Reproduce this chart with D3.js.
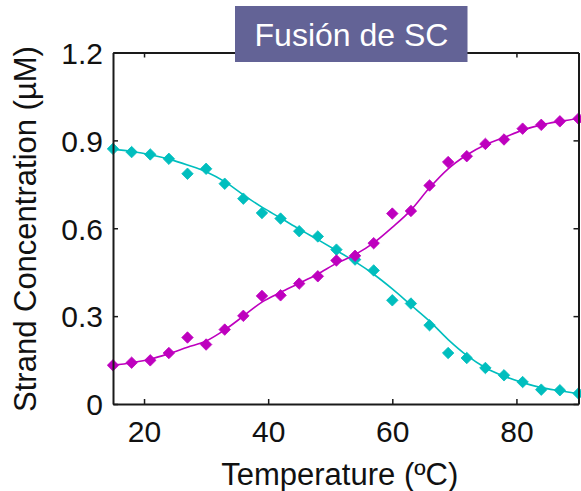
<!DOCTYPE html>
<html>
<head>
<meta charset="utf-8">
<script src="https://cdn.jsdelivr.net/npm/d3@7"></script>
<style>
  html, body { margin: 0; padding: 0; background: #fff; }
  svg { display: block; }
  text { font-family: "Liberation Sans", Arial, Helvetica, sans-serif; }
</style>
</head>
<body>
<svg id="chart" width="581" height="491"></svg>
<script>
// Temperature steps (ºC)
const temperature = [15, 18, 21, 24, 27, 30, 33, 36, 39, 42, 45, 48, 51, 54, 57, 60, 63, 66, 69, 72, 75, 78, 81, 84, 87, 90];

// Measured strand concentrations (µM)
const duplexMeasured = [0.871, 0.860, 0.852, 0.837, 0.786, 0.803, 0.752, 0.701, 0.652, 0.633, 0.590, 0.572, 0.527, 0.493, 0.456, 0.354, 0.343, 0.269, 0.174, 0.157, 0.123, 0.098, 0.075, 0.049, 0.047, 0.036];
const singleMeasured = [0.132, 0.141, 0.149, 0.174, 0.227, 0.203, 0.254, 0.301, 0.369, 0.371, 0.411, 0.436, 0.490, 0.506, 0.549, 0.650, 0.659, 0.746, 0.826, 0.846, 0.888, 0.903, 0.940, 0.953, 0.965, 0.974];

// Fitted melting curves at the same temperatures (µM)
const duplexFit = [0.870, 0.862, 0.851, 0.836, 0.816, 0.793, 0.759, 0.714, 0.672, 0.635, 0.597, 0.561, 0.524, 0.486, 0.443, 0.393, 0.338, 0.283, 0.220, 0.166, 0.124, 0.095, 0.073, 0.056, 0.045, 0.035];
const singleFit = [0.132, 0.141, 0.153, 0.172, 0.194, 0.215, 0.253, 0.300, 0.348, 0.381, 0.412, 0.444, 0.480, 0.510, 0.550, 0.603, 0.662, 0.738, 0.803, 0.850, 0.885, 0.910, 0.935, 0.953, 0.965, 0.975];

// Axis ticks
const xTicks = [20, 40, 60, 80];
const yTicks = [0, 0.3, 0.6, 0.9, 1.2];
const yTickLabels = ["0", "0.3", "0.6", "0.9", "1.2"];

const titleText = "Fusión de SC";
const xLabel = "Temperature (ºC)";
const yLabel = "Strand Concentration (µM)";

const series = [
  { measured: duplexMeasured, fit: duplexFit, color: "#00bebe" },
  { measured: singleMeasured, fit: singleFit, color: "#be00be" }
];

const svg = d3.select("#chart");
const plot = { left: 113, right: 578.5, top: 52.5, bottom: 404 };

const x = d3.scaleLinear().domain([15, 90]).range([plot.left, plot.right]);
const y = d3.scaleLinear().domain([0, 1.2]).range([plot.bottom, plot.top]);

// Square diamond marker
const diamond = {
  draw(ctx, size) {
    const r = Math.sqrt(size / 2);
    ctx.moveTo(0, -r);
    ctx.lineTo(r, 0);
    ctx.lineTo(0, r);
    ctx.lineTo(-r, 0);
    ctx.closePath();
  }
};
const marker = d3.symbol().type(diamond).size(66);

const line = d3.line()
  .x(d => x(d[0]))
  .y(d => y(d[1]))
  .curve(d3.curveMonotoneX);

svg.append("defs").append("clipPath").attr("id", "plotclip")
  .append("rect")
  .attr("x", plot.left - 6).attr("y", plot.top)
  .attr("width", plot.right - plot.left + 12).attr("height", plot.bottom - plot.top);

const g = svg.append("g").attr("clip-path", "url(#plotclip)");

series.forEach(s => {
  g.append("path")
    .datum(temperature.map((t, i) => [t, s.fit[i]]))
    .attr("d", line)
    .attr("fill", "none")
    .attr("stroke", s.color)
    .attr("stroke-width", 1.6);

  g.selectAll(null)
    .data(temperature.map((t, i) => [t, s.measured[i]]))
    .join("path")
    .attr("transform", d => `translate(${x(d[0])},${y(d[1])})`)
    .attr("d", marker)
    .attr("fill", s.color)
    .attr("stroke", s.color)
    .attr("stroke-width", 0.8)
    .attr("stroke-linejoin", "round");
});

// Box axes with inward ticks on all four sides
const tickLen = 5;
const axisColor = "#1a1a1a";
const fontSize = 30;

const bottomAxis = svg.append("g")
  .attr("transform", `translate(0,${plot.bottom})`)
  .call(d3.axisBottom(x).tickValues(xTicks).tickSize(-tickLen).tickPadding(tickLen + 10).tickSizeOuter(0));
const topAxis = svg.append("g")
  .attr("transform", `translate(0,${plot.top})`)
  .call(d3.axisTop(x).tickValues(xTicks).tickSize(-tickLen).tickFormat("").tickSizeOuter(0));
const leftAxis = svg.append("g")
  .attr("transform", `translate(${plot.left},0)`)
  .call(d3.axisLeft(y).tickValues(yTicks).tickSize(-tickLen).tickPadding(tickLen + 10)
    .tickFormat((d, i) => yTickLabels[i]).tickSizeOuter(0));
const rightAxis = svg.append("g")
  .attr("transform", `translate(${plot.right},0)`)
  .call(d3.axisRight(y).tickValues(yTicks).tickSize(-tickLen).tickFormat("").tickSizeOuter(0));

[bottomAxis, topAxis, leftAxis, rightAxis].forEach(a => {
  a.select(".domain").attr("stroke", axisColor).attr("stroke-width", 2);
  a.selectAll(".tick line").attr("stroke", axisColor).attr("stroke-width", 1.5);
  a.selectAll(".tick text")
    .attr("fill", "#111")
    .style("font-size", fontSize + "px")
    .style("font-family", "'Liberation Sans', Arial, sans-serif");
});
bottomAxis.selectAll(".tick text").attr("dy", "0.72em").attr("y", 16);
leftAxis.selectAll(".tick text").attr("dy", "0.36em").attr("x", -10);

// Axis titles
svg.append("text")
  .attr("x", (plot.left + plot.right) / 2 - 6)
  .attr("y", 485)
  .attr("text-anchor", "middle")
  .attr("fill", "#111")
  .style("font-size", "31px")
  .text(xLabel);

svg.append("text")
  .attr("transform", `translate(36,229) rotate(-90)`)
  .attr("text-anchor", "middle")
  .attr("fill", "#111")
  .style("font-size", "31px")
  .text(yLabel);

// Title banner
svg.append("rect")
  .attr("x", 235).attr("y", 6)
  .attr("width", 232.5).attr("height", 56)
  .attr("fill", "#636396");
svg.append("text")
  .attr("x", 351.5)
  .attr("y", 46)
  .attr("text-anchor", "middle")
  .attr("fill", "#ffffff")
  .style("font-size", "32px")
  .text(titleText);
</script>
</body>
</html>
